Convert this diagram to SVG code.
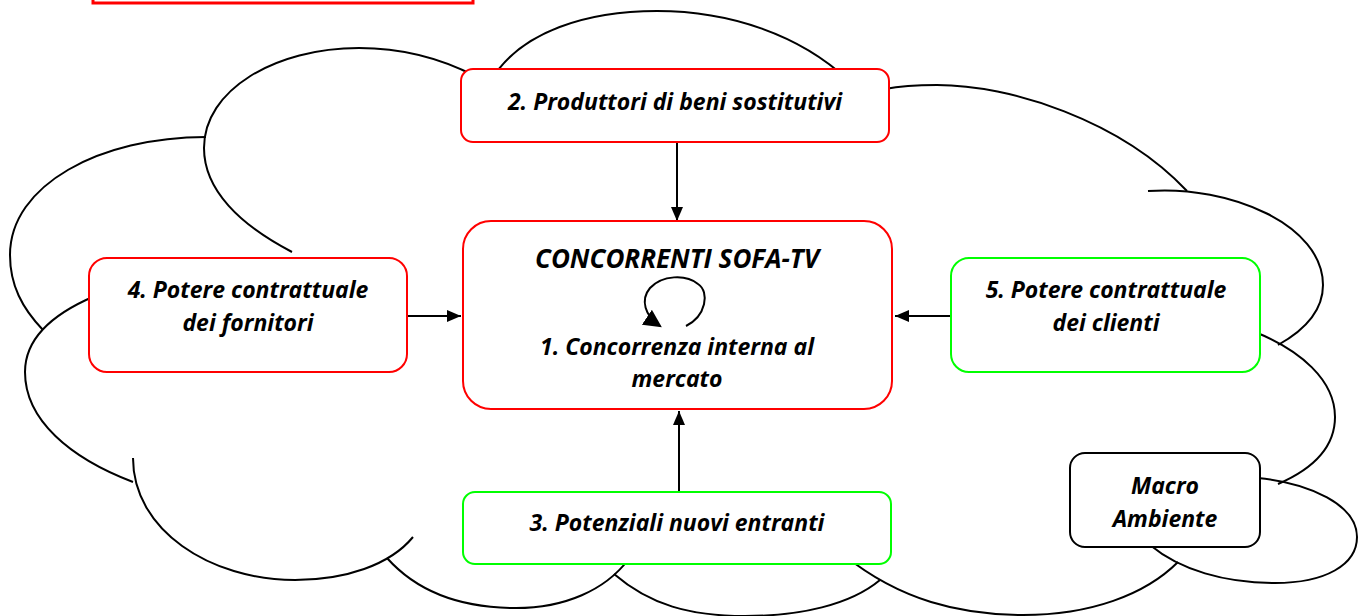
<svg xmlns="http://www.w3.org/2000/svg" width="1360" height="616" viewBox="0 0 1360 616">
  <style>
    .lobe { fill: none; stroke: #000; stroke-width: 2; }
    .box { fill: #fff; stroke-width: 2; }
    .red { stroke: #ff0000; }
    .green { stroke: #00ff00; }
    .black { stroke: #000; }
    .lbl { font-family: "Open Sans", "Liberation Sans", sans-serif; font-weight: bold; font-style: italic; font-size: 23px; fill: #000; text-anchor: middle; }
    .big { font-size: 26px; }
    .conn { stroke: #000; stroke-width: 2; fill: none; }
  </style>
  <defs>
    <marker id="arrow" viewBox="0 0 14 12" refX="14" refY="6" markerWidth="14" markerHeight="12" markerUnits="userSpaceOnUse" orient="auto">
      <path d="M0,0 L14,6 L0,12 Z" fill="#000"/>
    </marker>
    <marker id="arrowLoop" viewBox="0 0 16 16" refX="14" refY="8" markerWidth="18" markerHeight="18" markerUnits="userSpaceOnUse" orient="auto">
      <path d="M0,0 L16,8 L0,16 Z" fill="#000"/>
    </marker>
  </defs>

  <rect width="1360" height="616" fill="#fff"/>

  <!-- title frame, mostly off the top edge -->
  <rect x="93" y="-30" width="380" height="33" fill="none" stroke="#ff0000" stroke-width="3"/>

  <!-- cloud outline, drawn as separate lobes -->
  <g id="cloud">
    <path class="lobe" d="M490 82 C520 30 590 11 657 11 C730 11 800 35 848 80"/>
    <path class="lobe" d="M292 252 C240 225 204 190 204 148 C204 90 275 48 359 48 C400 48 440 58 475 76"/>
    <path class="lobe" d="M206 137 C100 137 10 185 10 255 C10 285 22 308 43 330"/>
    <path class="lobe" d="M95 296 C50 315 25 340 25 372 C25 420 70 458 133 482"/>
    <path class="lobe" d="M133 458 C133 530 210 580 295 580 C345 580 390 565 413 537"/>
    <path class="lobe" d="M387 558 C420 595 465 608 516 608 C565 608 605 590 628 560"/>
    <path class="lobe" d="M614 574 C650 605 690 616 745 616 C800 616 850 605 880 580"/>
    <path class="lobe" d="M845 556 C900 600 960 615 1023 615 C1090 615 1145 595 1178 562"/>
    <path class="lobe" d="M1150 545 C1180 570 1225 583 1275 583 C1325 583 1357 565 1357 537 C1357 505 1310 483 1258 478"/>
    <path class="lobe" d="M1255 332 C1300 350 1335 380 1335 417 C1335 445 1315 468 1278 484"/>
    <path class="lobe" d="M1148 191 C1230 185 1323 225 1323 285 C1323 310 1305 330 1278 345"/>
    <path class="lobe" d="M885 89 C900 86 915 85 937 85 C1010 85 1120 120 1187 191"/>
  </g>

  <!-- connectors -->
  <g id="connectors">
    <line class="conn" x1="677" y1="142" x2="677" y2="221" marker-end="url(#arrow)"/>
    <line class="conn" x1="679" y1="492" x2="679" y2="411" marker-end="url(#arrow)"/>
    <line class="conn" x1="407" y1="316" x2="461" y2="316" marker-end="url(#arrow)"/>
    <line class="conn" x1="951" y1="316" x2="895" y2="316" marker-end="url(#arrow)"/>
  </g>

  <g id="node-sostitutivi">
    <rect class="box red" x="461" y="69" width="428" height="73" rx="12"/>
    <text class="lbl" x="675" y="110">2. Produttori di beni sostitutivi</text>
  </g>

  <g id="node-concorrenti">
    <rect class="box red" x="463" y="221" width="429" height="188" rx="28"/>
    <text class="lbl big" x="677" y="268">CONCORRENTI SOFA-TV</text>
    <path class="conn" d="M686 326 C706 316 710 292 698 284 C686 274 662 275 650 288 C640 300 645 316 660 326" marker-end="url(#arrowLoop)"/>
    <text class="lbl" x="677" y="355">1. Concorrenza interna al</text>
    <text class="lbl" x="677" y="387">mercato</text>
  </g>

  <g id="node-fornitori">
    <rect class="box red" x="89" y="258" width="318" height="114" rx="18"/>
    <text class="lbl" x="248" y="298">4. Potere contrattuale</text>
    <text class="lbl" x="248" y="331">dei fornitori</text>
  </g>

  <g id="node-clienti">
    <rect class="box green" x="951" y="258" width="309" height="114" rx="18"/>
    <text class="lbl" x="1106" y="298">5. Potere contrattuale</text>
    <text class="lbl" x="1106" y="331">dei clienti</text>
  </g>

  <g id="node-entranti">
    <rect class="box green" x="463" y="492" width="428" height="72" rx="12"/>
    <text class="lbl" x="677" y="531">3. Potenziali nuovi entranti</text>
  </g>

  <g id="node-macro">
    <rect class="box black" x="1070" y="453" width="190" height="94" rx="15"/>
    <text class="lbl" x="1165" y="494">Macro</text>
    <text class="lbl" x="1165" y="527">Ambiente</text>
  </g>
</svg>
